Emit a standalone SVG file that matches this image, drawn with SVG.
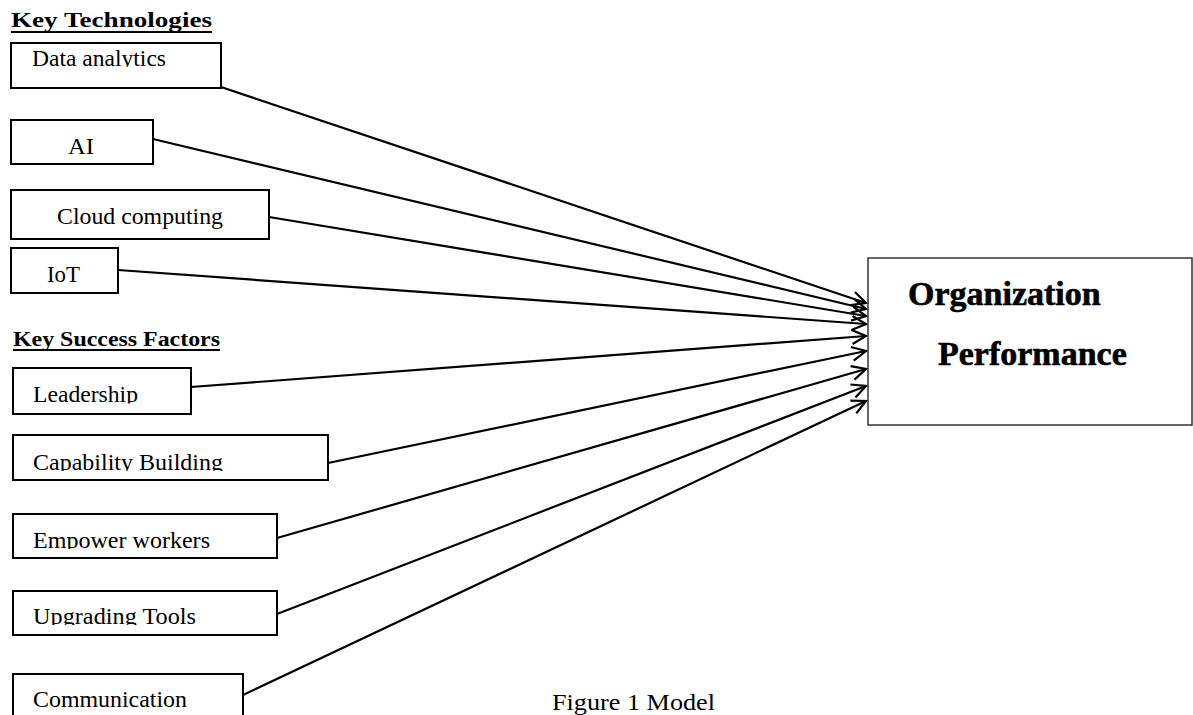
<svg xmlns="http://www.w3.org/2000/svg" width="1193" height="715" viewBox="0 0 1193 715">
<style>
.box{fill:#fff;stroke:#000;stroke-width:2}
.lbl{font-family:"Liberation Serif","Times New Roman",serif;font-size:23px;fill:#000}
.head{font-family:"Liberation Serif","Times New Roman",serif;font-size:22px;font-weight:bold;fill:#000}
.big{font-family:"Liberation Serif","Times New Roman",serif;font-size:34px;font-weight:bold;fill:#000;stroke:#000;stroke-width:0.6}
.ul{stroke:#000;stroke-width:2}
.conn{stroke:#000;stroke-width:2.2;fill:none;marker-end:url(#arr)}
</style>
<defs>
<marker id="arr" markerUnits="userSpaceOnUse" markerWidth="18" markerHeight="18" refX="15" refY="8" orient="auto">
<path d="M1,1 L15,8 L1,15" fill="none" stroke="#000" stroke-width="2.2"/>
</marker>
<clipPath id="c1"><rect x="0" y="0" width="300" height="67"/></clipPath>
<clipPath id="c5"><rect x="0" y="300" width="300" height="103.5"/></clipPath>
<clipPath id="c6"><rect x="0" y="400" width="400" height="71"/></clipPath>
<clipPath id="c7"><rect x="0" y="500" width="400" height="49"/></clipPath>
<clipPath id="c8"><rect x="0" y="580" width="400" height="45"/></clipPath>
</defs>

<g id="heading-tech">
<text class="head" x="11" y="27" textLength="201" lengthAdjust="spacingAndGlyphs">Key Technologies</text>
<line class="ul" x1="11" y1="32" x2="212" y2="32"/>
</g>
<g id="heading-ksf">
<text class="head" x="13" y="346" textLength="207" lengthAdjust="spacingAndGlyphs">Key Success Factors</text>
<line class="ul" x1="13" y1="350" x2="220" y2="350"/>
</g>

<g id="connectors">
<line class="conn" x1="221" y1="87" x2="866" y2="303"/>
<line class="conn" x1="153" y1="139" x2="866" y2="309"/>
<line class="conn" x1="269" y1="217" x2="866" y2="316"/>
<line class="conn" x1="118" y1="270" x2="866" y2="324"/>
<line class="conn" x1="191" y1="387" x2="866" y2="336"/>
<line class="conn" x1="328" y1="463" x2="866" y2="351"/>
<line class="conn" x1="277" y1="538" x2="866" y2="369"/>
<line class="conn" x1="277" y1="614" x2="866" y2="386"/>
<line class="conn" x1="243" y1="695" x2="866" y2="401"/>
</g>

<g id="n-data">
<rect class="box" x="11" y="43" width="210" height="45"/>
<text class="lbl" x="32" y="66" textLength="134" lengthAdjust="spacingAndGlyphs" clip-path="url(#c1)">Data analytics</text>
</g>
<g id="n-ai">
<rect class="box" x="11" y="120" width="142" height="44"/>
<text class="lbl" x="68" y="154" textLength="26" lengthAdjust="spacingAndGlyphs">AI</text>
</g>
<g id="n-cloud">
<rect class="box" x="11" y="190" width="258" height="49"/>
<text class="lbl" x="57" y="224" textLength="166" lengthAdjust="spacingAndGlyphs">Cloud computing</text>
</g>
<g id="n-iot">
<rect class="box" x="11" y="248" width="107" height="45"/>
<text class="lbl" x="47" y="282" textLength="33" lengthAdjust="spacingAndGlyphs">IoT</text>
</g>
<g id="n-leadership">
<rect class="box" x="13" y="368" width="178" height="46"/>
<text class="lbl" x="33" y="402" textLength="105" lengthAdjust="spacingAndGlyphs" clip-path="url(#c5)">Leadership</text>
</g>
<g id="n-capability">
<rect class="box" x="13" y="435" width="315" height="45"/>
<text class="lbl" x="33" y="470" textLength="190" lengthAdjust="spacingAndGlyphs" clip-path="url(#c6)">Capability Building</text>
</g>
<g id="n-empower">
<rect class="box" x="13" y="514" width="264" height="44"/>
<text class="lbl" x="33" y="548" textLength="177" lengthAdjust="spacingAndGlyphs" clip-path="url(#c7)">Empower workers</text>
</g>
<g id="n-upgrading">
<rect class="box" x="13" y="591" width="264" height="44"/>
<text class="lbl" x="33" y="624" textLength="163" lengthAdjust="spacingAndGlyphs" clip-path="url(#c8)">Upgrading Tools</text>
</g>
<g id="n-communication">
<rect class="box" x="13" y="674" width="230" height="50"/>
<text class="lbl" x="33" y="707" textLength="154" lengthAdjust="spacingAndGlyphs">Communication</text>
</g>

<g id="n-performance">
<rect x="868" y="258" width="324" height="167" fill="#fff" stroke="#333" stroke-width="1.5"/>
<text class="big" x="908" y="305">Organization</text>
<text class="big" x="938" y="365">Performance</text>
</g>

<g id="caption">
<text class="lbl" x="552" y="710" textLength="163" lengthAdjust="spacingAndGlyphs">Figure 1 Model</text>
</g>
</svg>
